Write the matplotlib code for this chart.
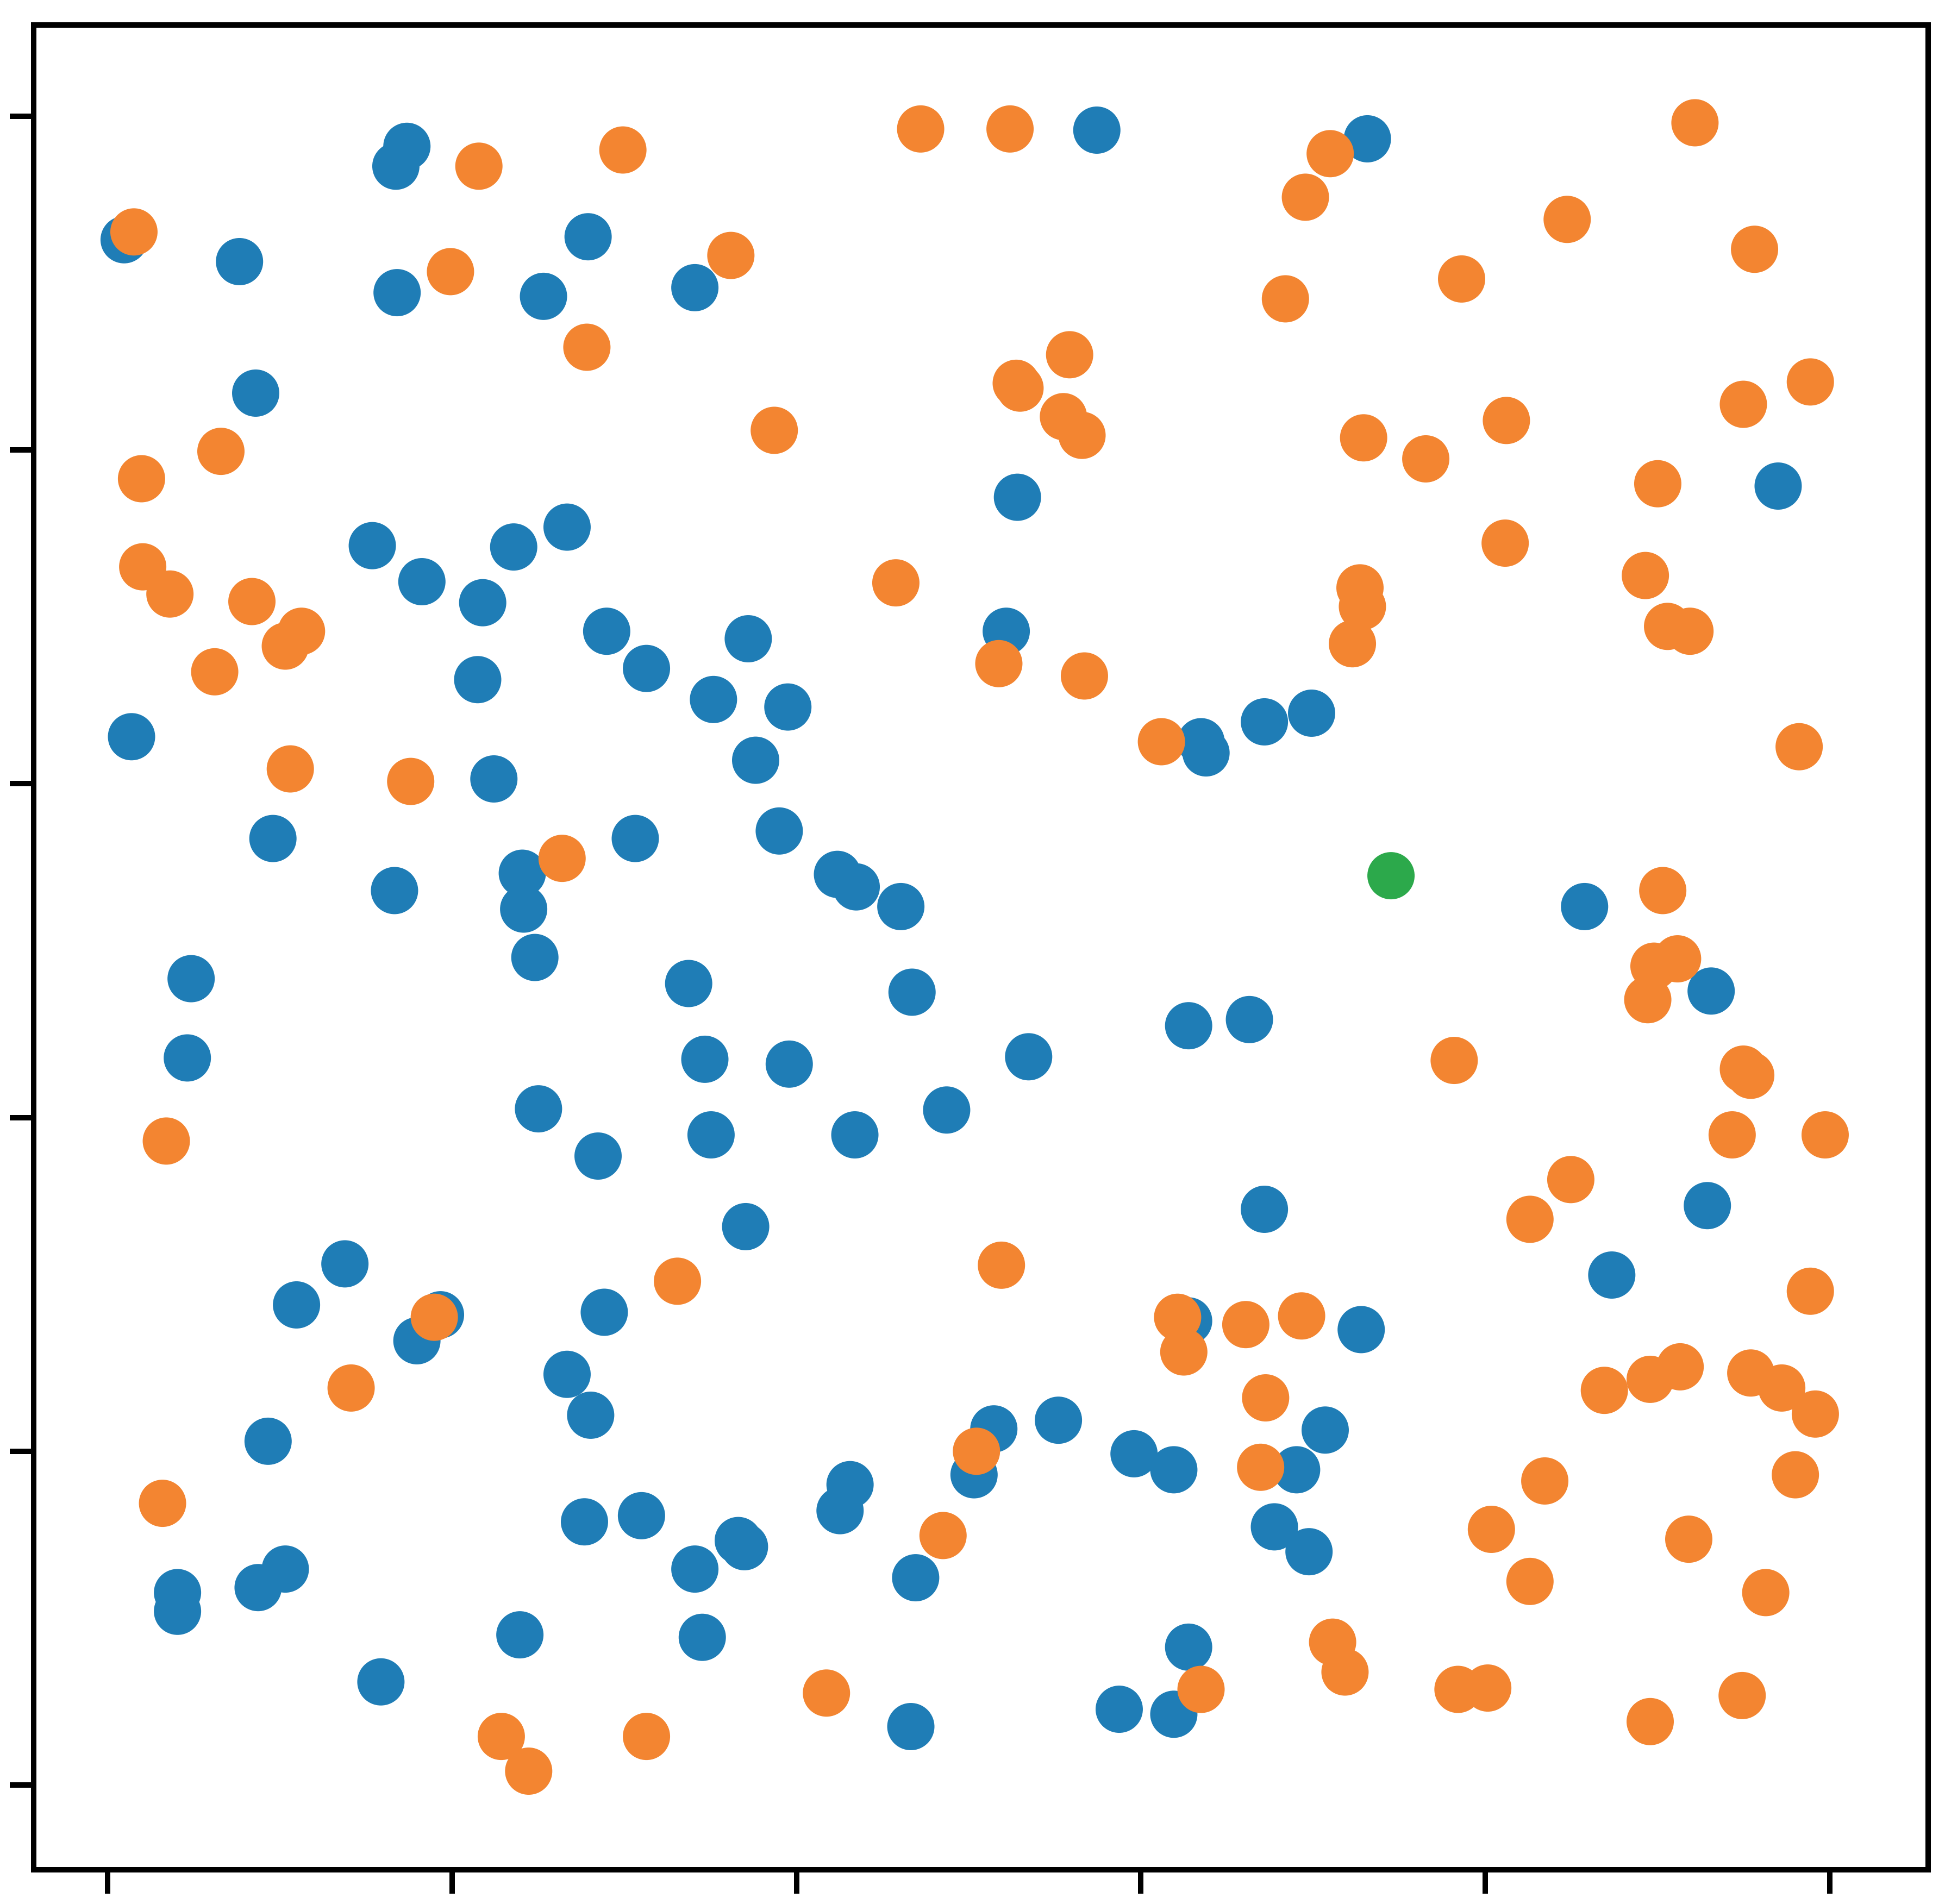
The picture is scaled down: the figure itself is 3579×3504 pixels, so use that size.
import matplotlib
matplotlib.use("Agg")
import matplotlib.pyplot as plt

blue_x = [0.0096, 0.0766, 0.1674, 0.1738, 0.1681, 0.2790, 0.2531, 0.3410, 0.5744, 0.7315,
          0.0860, 0.1537, 0.1825, 0.2358, 0.2668, 0.2178, 0.2149, 0.2898, 0.3129, 0.3720,
          0.3518, 0.3950, 0.3763, 0.0139, 0.2243, 0.0960, 0.3064, 0.3900, 0.1666, 0.2408,
          0.2416, 0.2481, 0.4238, 0.4347, 0.4606, 0.0485, 0.0463, 0.3374, 0.3468, 0.3958,
          0.4671, 0.2502, 0.2848, 0.3504, 0.4339, 0.4872, 0.5348, 0.3705, 0.5283, 0.5218,
          0.6349, 0.6378, 0.6717, 0.6991, 0.9700, 0.8576, 0.9311, 0.6277, 0.6630, 0.6717,
          0.9289, 0.8734, 0.7279, 0.6277, 0.1378, 0.1097, 0.1933, 0.1796, 0.2884, 0.2668,
          0.2805, 0.0932, 0.0406, 0.0406, 0.1032, 0.0874, 0.1587, 0.2394, 0.2769, 0.3100,
          0.3410, 0.3453, 0.3662, 0.3698, 0.4311, 0.4253, 0.4692, 0.4664, 0.5031, 0.5146,
          0.5521, 0.5960, 0.6191, 0.6904, 0.7070, 0.6775, 0.6976, 0.6277, 0.5874, 0.6191]
blue_y = [0.9260, 0.9129, 0.9701, 0.9820, 0.8943, 0.9278, 0.8921, 0.8973, 0.9917, 0.9865,
          0.8341, 0.7427, 0.7211, 0.7419, 0.7538, 0.7085, 0.6624, 0.6914, 0.6691, 0.6869,
          0.6505, 0.6460, 0.6141, 0.6282, 0.6029, 0.5672, 0.5672, 0.5717, 0.5360, 0.5464,
          0.5249, 0.4959, 0.5457, 0.5382, 0.5264, 0.4832, 0.4357, 0.4803, 0.4349, 0.4320,
          0.4751, 0.4052, 0.3769, 0.3896, 0.3896, 0.4045, 0.4364, 0.3346, 0.7717, 0.6914,
          0.6252, 0.6185, 0.6371, 0.6423, 0.7784, 0.5264, 0.4758, 0.4550, 0.4587, 0.3450,
          0.3472, 0.3056, 0.2729, 0.2781, 0.3123, 0.2877, 0.2818, 0.2662, 0.2833, 0.2461,
          0.2216, 0.2060, 0.1153, 0.1041, 0.1294, 0.1183, 0.0618, 0.0900, 0.1577, 0.1614,
          0.1294, 0.0885, 0.1465, 0.1428, 0.1800, 0.1644, 0.1242, 0.0350, 0.1859, 0.2134,
          0.2186, 0.1985, 0.1889, 0.1889, 0.2127, 0.1547, 0.1398, 0.0826, 0.0454, 0.0424]

orange_x = [0.0153, 0.2156, 0.2992, 0.4721, 0.5240, 0.9217, 0.7099, 0.6955, 0.8475, 0.9563,
            0.7862, 0.6839, 0.3619, 0.1991, 0.2783, 0.5586, 0.5276, 0.5298, 0.5550, 0.5658,
            0.3871, 0.7293, 0.7654, 0.8122, 0.9498, 0.9887, 0.0658, 0.0197, 0.9001, 0.0204,
            0.0362, 0.0838, 0.1126, 0.1032, 0.0622, 0.1061, 0.1760, 0.2639, 0.4577, 0.8115,
            0.7272, 0.7286, 0.7228, 0.8929, 0.9058, 0.9188, 0.5175, 0.5672, 0.6119, 0.9822,
            0.9030, 0.8979, 0.9116, 0.8943, 0.9498, 0.9541, 0.7819, 0.9433, 0.9973, 0.8496,
            0.8259, 0.0341, 0.5190, 0.3309, 0.9887, 0.6213, 0.6249, 0.6609, 0.6933, 0.6724,
            0.6695, 0.8691, 0.8957, 0.9131, 0.9541, 0.9721, 0.9916, 0.9800, 0.8345, 0.8035,
            0.8259, 0.9181, 0.9628, 0.9491, 0.8957, 0.7841, 0.8014, 0.7113, 0.7185, 0.6349,
            0.5045, 0.4851, 0.4174, 0.3129, 0.2286, 0.2445, 0.1414, 0.1897, 0.0319]
orange_y = [0.9307, 0.9701, 0.9798, 0.9924, 0.9924, 0.9961, 0.9776, 0.9515, 0.9382, 0.9203,
            0.9025, 0.8906, 0.9166, 0.9069, 0.8616, 0.8571, 0.8400, 0.8371, 0.8200, 0.8088,
            0.8118, 0.8073, 0.7947, 0.8177, 0.8274, 0.8408, 0.7992, 0.7828, 0.7798, 0.7300,
            0.7137, 0.7092, 0.6914, 0.6825, 0.6671, 0.6089, 0.6014, 0.5553, 0.7204, 0.7442,
            0.7174, 0.7062, 0.6839, 0.7248, 0.6943, 0.6914, 0.6720, 0.6646, 0.6252, 0.6222,
            0.5360, 0.4907, 0.4951, 0.4706, 0.4290, 0.4253, 0.4342, 0.3896, 0.3896, 0.3628,
            0.3390, 0.3859, 0.3115, 0.3019, 0.2959, 0.2803, 0.2595, 0.2759, 0.2811, 0.2320,
            0.1904, 0.2365, 0.2431, 0.2506, 0.2469, 0.2379, 0.2223, 0.1859, 0.1822, 0.1532,
            0.1220, 0.1473, 0.1153, 0.0536, 0.0380, 0.0573, 0.0581, 0.0856, 0.0677, 0.0573,
            0.2000, 0.1495, 0.0551, 0.0291, 0.0291, 0.0083, 0.2379, 0.2803, 0.1688]

green_x = [0.7452]
green_y = [0.5449]

x_ticks = [0.0, 0.2, 0.4, 0.6, 0.8, 1.0]
y_ticks = [0.0, 0.2, 0.4, 0.6, 0.8, 1.0]

fig = plt.figure(figsize=(35.8, 35.04), dpi=100)
ax = fig.add_axes([0.01732, 0.01798, 0.99106 - 0.01732, 0.98696 - 0.01798])

msize = 3920
ax.scatter(blue_x, blue_y, s=msize, c="#1f7db6", edgecolors="none", zorder=2)
ax.scatter(orange_x, orange_y, s=msize, c="#f38531", edgecolors="none", zorder=3)
ax.scatter(green_x, green_y, s=msize, c="#2ca94b", edgecolors="none", zorder=4)

ax.set_xlim(-0.0429, 1.0571)
ax.set_ylim(-0.0508, 1.0548)
ax.set_xticks(x_ticks)
ax.set_yticks(y_ticks)
ax.set_xticklabels([])
ax.set_yticklabels([])
ax.tick_params(axis="both", length=31.7, width=7.2, color="black", direction="out")
for sp in ax.spines.values():
    sp.set_linewidth(7.2)
    sp.set_color("black")

fig.savefig("out.png", dpi=100, facecolor="white")
